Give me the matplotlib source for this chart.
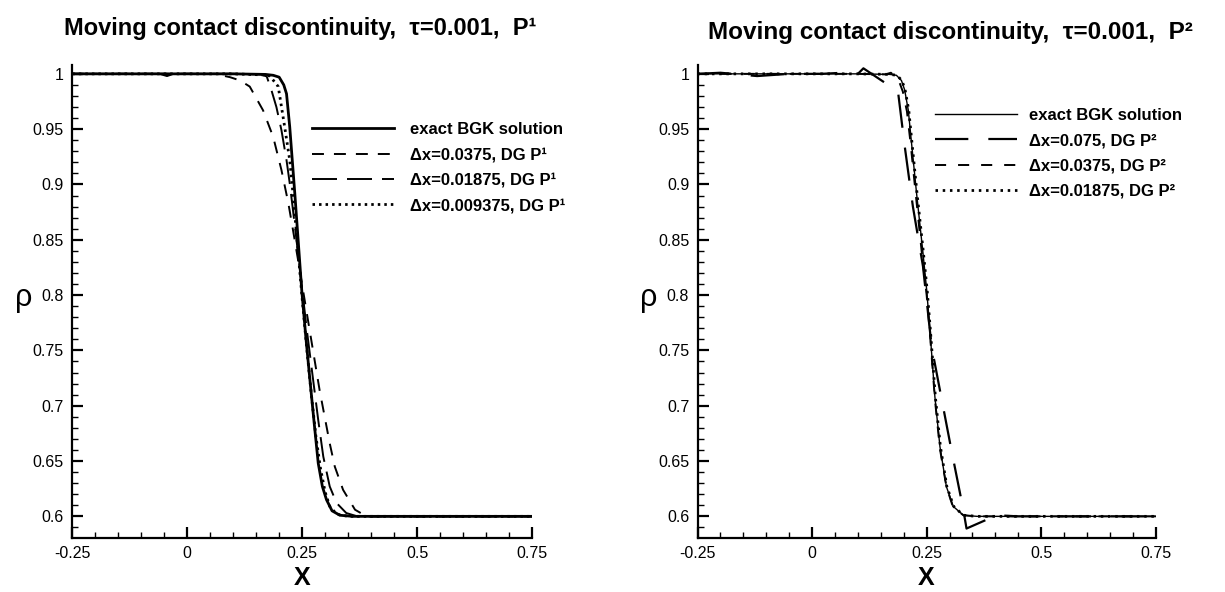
import numpy as np
import matplotlib
matplotlib.use("Agg")
import matplotlib.pyplot as plt
from matplotlib.ticker import MultipleLocator, FuncFormatter

plt.rcParams["font.family"] = ["Liberation Sans", "DejaVu Sans"]
plt.rcParams["lines.scale_dashes"] = False

# ---- data (x, rho) ----
# left panel: DG P1
p1_exact_x = [-0.25, 0.10, 0.17, 0.187, 0.20, 0.21, 0.216, 0.223, 0.234, 0.249, 0.258, 0.267,
              0.276, 0.285, 0.294, 0.303, 0.315, 0.332, 0.36, 0.75]
p1_exact_y = [1.0, 1.0, 0.9995, 0.9987, 0.997, 0.99, 0.982, 0.952, 0.892, 0.805, 0.762, 0.723,
              0.685, 0.648, 0.627, 0.615, 0.605, 0.601, 0.6, 0.6]

p1_dx0375_x = [-0.25, -0.06, -0.044, -0.03, 0.06, 0.093, 0.115, 0.136, 0.165, 0.187, 0.205, 0.22,
               0.23, 0.241, 0.26, 0.278, 0.288, 0.299, 0.31, 0.321, 0.339, 0.365, 0.39, 0.75]
p1_dx0375_y = [1.0, 1.0, 0.998, 1.0, 1.0, 0.997, 0.994, 0.9885, 0.967, 0.943, 0.913, 0.883,
               0.859, 0.832, 0.784, 0.739, 0.714, 0.69, 0.666, 0.645, 0.624, 0.606, 0.6, 0.6]

p1_dx01875_x = [-0.25, 0.10, 0.16, 0.173, 0.183, 0.194, 0.205, 0.216, 0.223, 0.23, 0.241, 0.26,
                0.274, 0.285, 0.296, 0.31, 0.325, 0.346, 0.37, 0.75]
p1_dx01875_y = [1.0, 1.0, 0.9995, 0.9976, 0.9855, 0.97, 0.949, 0.922, 0.901, 0.877, 0.838, 0.769,
                0.723, 0.687, 0.654, 0.627, 0.612, 0.603, 0.6, 0.6]

p1_dx009375_x = [-0.25, 0.10, 0.17, 0.18, 0.198, 0.212, 0.223, 0.23, 0.24, 0.25, 0.26, 0.27,
                 0.28, 0.29, 0.30, 0.31, 0.325, 0.35, 0.75]
p1_dx009375_y = [1.0, 1.0, 0.999, 0.998, 0.9885, 0.952, 0.922, 0.892, 0.845, 0.797, 0.752, 0.71,
                 0.672, 0.643, 0.622, 0.609, 0.602, 0.6, 0.6]

# right panel: DG P2
p2_exact_x = [-0.25, 0.10, 0.17, 0.184, 0.195, 0.202, 0.21, 0.217, 0.228, 0.242, 0.25, 0.257,
              0.268, 0.279, 0.293, 0.308, 0.33, 0.36, 0.75]
p2_exact_y = [1.0, 1.0, 0.9995, 0.9987, 0.994, 0.9855, 0.967, 0.9375, 0.892, 0.838, 0.805, 0.769,
              0.708, 0.663, 0.627, 0.609, 0.601, 0.6, 0.6]

p2_dx075_x = [-0.25, -0.2, -0.12, -0.05, 0.02, 0.067, 0.10, 0.112, 0.1875, 0.202, 0.22, 0.242,
              0.261, 0.279, 0.304, 0.33, 0.337, 0.403, 0.45, 0.75]
p2_dx075_y = [1.0, 1.001, 0.998, 1.0, 1.0, 1.001, 1.0, 1.005, 0.984, 0.935, 0.88, 0.826,
              0.753, 0.714, 0.66, 0.606, 0.589, 0.601, 0.6, 0.6]

p2_dx0375_x = [-0.25, 0.10, 0.16, 0.172, 0.18, 0.19, 0.198, 0.207, 0.215, 0.226, 0.24, 0.25,
               0.257, 0.268, 0.279, 0.293, 0.307, 0.33, 0.36, 0.75]
p2_dx0375_y = [1.0, 1.0, 0.9995, 1.001, 0.998, 0.993, 0.984, 0.966, 0.937, 0.892, 0.836, 0.80,
               0.766, 0.706, 0.661, 0.627, 0.609, 0.601, 0.6, 0.6]

p2_dx01875_x = [-0.25, 0.10, 0.17, 0.185, 0.196, 0.203, 0.211, 0.218, 0.229, 0.243, 0.251, 0.258,
                0.269, 0.28, 0.294, 0.309, 0.33, 0.36, 0.75]
p2_dx01875_y = [1.0, 1.0, 0.9995, 0.9987, 0.994, 0.9855, 0.967, 0.9375, 0.892, 0.838, 0.805, 0.769,
                0.708, 0.663, 0.627, 0.609, 0.601, 0.6, 0.6]

xticks = [-0.25, 0, 0.25, 0.5, 0.75]

W, H = 1225, 592
fig = plt.figure(figsize=(W / 100, H / 100), dpi=100)


def px_axes(x0, x1, y_top, y_bot):
    return fig.add_axes([x0 / W, 1 - y_bot / H, (x1 - x0) / W, (y_bot - y_top) / H])


def style_axes(ax):
    ax.set_xlim(-0.25, 0.75)
    ax.set_ylim(0.5807, 1.008)
    ax.spines["top"].set_visible(False)
    ax.spines["right"].set_visible(False)
    for s in ("left", "bottom"):
        ax.spines[s].set_linewidth(1.6)
    ax.set_xticks(xticks)
    ax.xaxis.set_minor_locator(MultipleLocator(0.05))
    ax.yaxis.set_major_locator(MultipleLocator(0.05))
    ax.yaxis.set_minor_locator(MultipleLocator(0.01))
    fmt = FuncFormatter(lambda v, p: f"{v:g}")
    ax.xaxis.set_major_formatter(fmt)
    ax.yaxis.set_major_formatter(fmt)
    ax.tick_params(which="major", direction="in", length=8, width=1.6, labelsize=11.5, pad=6)
    ax.tick_params(which="minor", direction="in", length=4.5, width=1.0)


leg_font = {"weight": "bold", "size": 12}

# ---- left panel ----
ax1 = px_axes(72.3, 532, 65, 537.7)
style_axes(ax1)
ax1.plot(p1_exact_x, p1_exact_y, color="black", lw=2.0, label="exact BGK solution")
ax1.plot(p1_dx0375_x, p1_dx0375_y, color="black", lw=1.4, linestyle=(0, (8.6, 7.2)),
         label="\u0394x=0.0375, DG P\u00b9")
ax1.plot(p1_dx01875_x, p1_dx01875_y, color="black", lw=1.4, linestyle=(0, (18, 7.2)),
         label="\u0394x=0.01875, DG P\u00b9")
ax1.plot(p1_dx009375_x, p1_dx009375_y, color="black", lw=2.0, linestyle=(0, (1.8, 2.9)),
         label="\u0394x=0.009375, DG P\u00b9")
ax1.legend(loc="upper left", bbox_to_anchor=(312 / W, 1 - 122 / H), bbox_transform=fig.transFigure,
           frameon=False, prop=leg_font, handlelength=4.9, handletextpad=1.0, borderpad=0,
           borderaxespad=0, labelspacing=0.62)

# ---- right panel ----
ax2 = px_axes(697.5, 1155.8, 65, 537.7)
style_axes(ax2)
ax2.plot(p2_exact_x, p2_exact_y, color="black", lw=1.0, label="exact BGK solution")
ax2.plot(p2_dx075_x, p2_dx075_y, color="black", lw=1.6, linestyle=(0, (24, 14.4)),
         label="\u0394x=0.075, DG P\u00b2")
ax2.plot(p2_dx0375_x, p2_dx0375_y, color="black", lw=1.4, linestyle=(0, (8, 8.6)),
         label="\u0394x=0.0375, DG P\u00b2")
ax2.plot(p2_dx01875_x, p2_dx01875_y, color="black", lw=2.0, linestyle=(0, (1.8, 3.4)),
         label="\u0394x=0.01875, DG P\u00b2")
ax2.legend(loc="upper left", bbox_to_anchor=(935 / W, 1 - 108 / H), bbox_transform=fig.transFigure,
           frameon=False, prop=leg_font, handlelength=4.9, handletextpad=0.75, borderpad=0,
           borderaxespad=0, labelspacing=0.62)

# ---- titles and axis labels ----
fig.text(300 / W, 1 - 29 / H, "Moving contact discontinuity,  \u03c4=0.001,  P\u00b9",
         ha="center", va="center", fontsize=17, fontweight="bold")
fig.text(950 / W, 1 - 33 / H, "Moving contact discontinuity,  \u03c4=0.001,  P\u00b2",
         ha="center", va="center", fontsize=17.5, fontweight="bold")
for xc in (302, 926):
    fig.text(xc / W, 1 - 578 / H, "X", ha="center", va="center", fontsize=18, fontweight="bold")
for xc in (24, 649):
    fig.text(xc / W, 1 - 298 / H, "\u03c1", ha="center", va="center", fontsize=22)

fig.savefig("out.png", dpi=100)
